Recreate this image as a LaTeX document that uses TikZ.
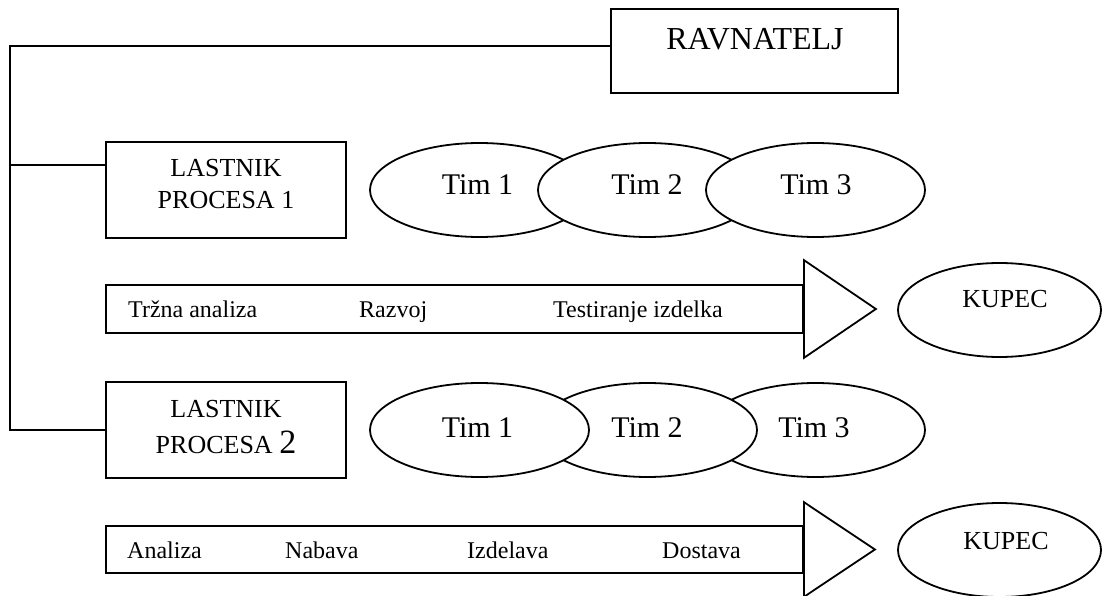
\documentclass[tikz,border=0pt]{standalone}
\usepackage{fontspec}
\setmainfont{Liberation Serif}
\usetikzlibrary{shapes.geometric}
\newcommand{\fs}[1]{\fontsize{#1}{#1}\selectfont}
\tikzset{
  outline/.style={draw=black, line width=1.8pt},
  orgbox/.style={outline, rectangle, inner sep=0pt},
  team/.style={outline, ellipse, fill=white, minimum width=219pt, minimum height=94pt, inner sep=0pt},
  buyer/.style={outline, ellipse, minimum width=203pt, minimum height=94pt, inner sep=0pt},
  stagebar/.style={outline, rectangle, minimum width=697pt, inner sep=0pt},
  stagehead/.style={outline, line join=miter},
  lbl/.style={anchor=base, inner sep=0pt},
  lblw/.style={anchor=base west, inner sep=0pt},
}
\begin{document}
\begin{tikzpicture}[x=1pt, y=-1pt]
\useasboundingbox (0,0) rectangle (1104,596);

% director and process owners
\node[orgbox, minimum width=287pt, minimum height=84pt] (rav) at (754.5,51) {};
\node[lbl] (ravtxt) at (755,50) {\fs{32}RAVNATELJ};

\node[orgbox, minimum width=240pt, minimum height=96pt] (lp1) at (226,190) {};
\node[lbl] (lp1a) at (226,177) {\fs{26}LASTNIK};
\node[lbl] (lp1b) at (226,209) {\fs{26}PROCESA 1};

\node[orgbox, minimum width=240pt, minimum height=96pt] (lp2) at (226,430) {};
\node[lbl] (lp2a) at (226,417) {\fs{26}LASTNIK};
\node[lbl] (lp2b) at (226,453) {\fs{26}PROCESA \fs{34}2};

% reporting lines
\coordinate (spine) at (10,430);
\coordinate (j1) at (10,165);
\draw[outline] ([yshift=5pt]rav.west) -| (spine) -- (lp2.west);
\draw[outline] (j1) -- (j1 -| lp1.west);

% teams of process 1 (each one overlaps the previous)
\node[team] (t11) at (479.5,190) {};
\node[team] (t12) at (647.5,190) {};
\node[team] (t13) at (815.5,190) {};
\node[lbl] at (477.5,195) {\fs{30}Tim 1};
\node[lbl] at (647,195) {\fs{30}Tim 2};
\node[lbl] at (816,195) {\fs{30}Tim 3};

% teams of process 2 (each one overlaps the next)
\node[team] (t23) at (815.5,430) {};
\node[team] (t22) at (647.5,430) {};
\node[team] (t21) at (479.5,430) {};
\node[lbl] at (477.5,437) {\fs{30}Tim 1};
\node[lbl] at (647,437) {\fs{30}Tim 2};
\node[lbl] at (814,437) {\fs{30}Tim 3};

% process 1 chain
\node[stagebar, minimum height=48pt] (bar1) at (454.5,309) {};
\draw[stagehead] ([yshift=24pt]bar1.north east) -- ([xshift=72pt]bar1.east)
  -- ([yshift=-24pt]bar1.south east) -- cycle;
\node[lblw] at (128,318) {\fs{24}Tržna analiza};
\node[lblw] at (359,318) {\fs{24}Razvoj};
\node[lblw] at (553,318) {\fs{24}Testiranje izdelka};
\node[buyer] (kup1) at (999.5,310) {};
\node[lbl] at (1005,308) {\fs{26}KUPEC};

% process 2 chain
\node[stagebar, minimum height=47pt] (bar2) at (454.5,549.5) {};
\draw[stagehead] ([yshift=23pt]bar2.north east) -- ([xshift=71pt]bar2.east)
  -- ([yshift=-23pt]bar2.south east) -- cycle;
\node[lblw] at (127,558) {\fs{24}Analiza};
\node[lblw] at (285,558) {\fs{24}Nabava};
\node[lblw] at (467,558) {\fs{24}Izdelava};
\node[lblw] at (662,558) {\fs{24}Dostava};
\node[buyer] (kup2) at (999.5,550) {};
\node[lbl] at (1006,549) {\fs{26}KUPEC};
\end{tikzpicture}
\end{document}
